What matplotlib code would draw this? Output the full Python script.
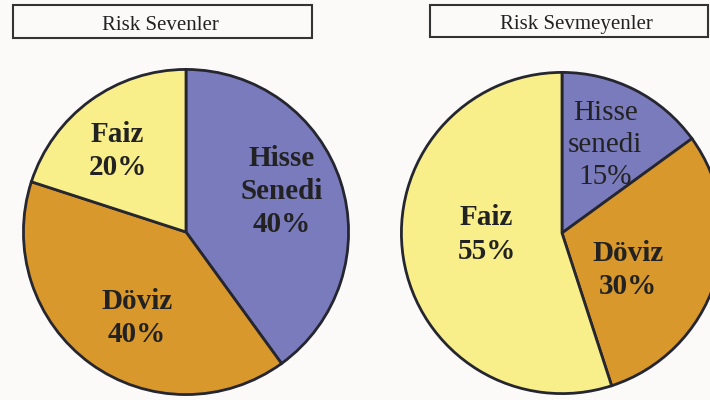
import matplotlib.pyplot as plt
from matplotlib.patches import Rectangle

# data
titles = ["Risk Sevenler", "Risk Sevmeyenler"]
names_left = ["Hisse\nSenedi", "Döviz", "Faiz"]
values_left = [40, 40, 20]
names_right = ["Hisse\nsenedi", "Döviz", "Faiz"]
values_right = [15, 30, 55]

colors = ["#7a7bbd", "#d8982c", "#f9ef8a"]
edge = "#262630"
txt = "#222222"

plt.rcParams['font.family'] = ['Liberation Serif', 'DejaVu Serif']

fig = plt.figure(figsize=(7.1, 4.0), dpi=100)
fig.patch.set_facecolor("#fbfaf9")

# background axes in pixel coords for the title boxes
bg = fig.add_axes([0, 0, 1, 1])
bg.set_xlim(0, 710)
bg.set_ylim(400, 0)
bg.axis("off")
bg.add_patch(Rectangle((13, 5), 299, 33, fill=False, ec="#333333", lw=1.5))
bg.add_patch(Rectangle((430, 5), 278, 32, fill=False, ec="#333333", lw=1.5))
bg.text(160, 23, titles[0], ha="center", va="center_baseline", fontsize=15, color=txt)
bg.text(576, 22, titles[1], ha="center", va="center_baseline", fontsize=15, color=txt)


def draw_pie(cx, cy, r, values, names, label_pos, weights):
    ax = fig.add_axes([(cx - r) / 710, (400 - cy - r) / 400, 2 * r / 710, 2 * r / 400])
    wedges, _ = ax.pie(values, colors=colors, startangle=90, counterclock=False,
                       wedgeprops=dict(edgecolor=edge, linewidth=2.0))
    ax.set_xlim(-1.015, 1.015)
    ax.set_ylim(-1.015, 1.015)
    ax.axis("off")
    for name, v, (x, y), w in zip(names, values, label_pos, weights):
        ax.text(x, y, f"{name}\n{v}%", ha="center", va="center", fontsize=21,
                fontweight=w, color=txt, linespacing=1.3)
    return ax


draw_pie(186, 232, 165, values_left, names_left,
         [(0.59, 0.25), (-0.30, -0.53), (-0.42, 0.50)], ["bold", "bold", "bold"])
draw_pie(562, 233, 163, values_right, names_right,
         [(0.27, 0.55), (0.41, -0.23), (-0.47, -0.01)], ["normal", "bold", "bold"])

fig.savefig("out.png", dpi=100, facecolor=fig.get_facecolor())
